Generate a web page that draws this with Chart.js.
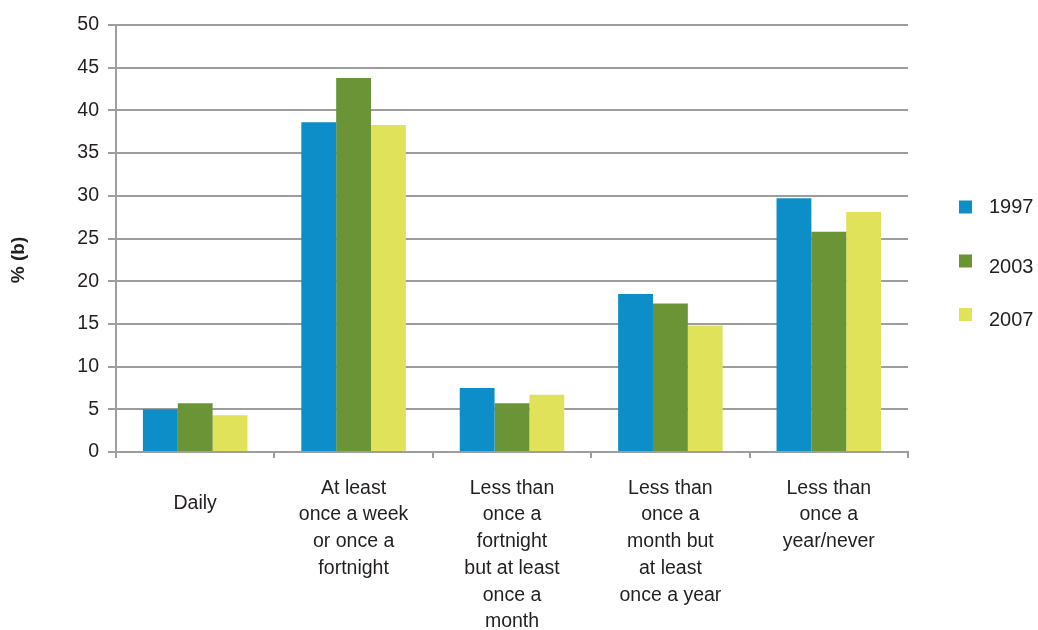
<!DOCTYPE html>
<html>
<head>
<meta charset="utf-8">
<script src="https://cdn.jsdelivr.net/npm/chart.js@4.4.1/dist/chart.umd.min.js"></script>
<style>
  html, body { margin: 0; padding: 0; background: #fff; }
  #wrap { width: 1038px; height: 630px; }
</style>
</head>
<body>
<div id="wrap"><canvas id="freqChart"></canvas></div>
<script>
// ===== Data =====
const categories = [
  "Daily",
  ["At least", "once a week", "or once a", "fortnight"],
  ["Less than", "once a", "fortnight", "but at least", "once a", "month"],
  ["Less than", "once a", "month but", "at least", "once a year"],
  ["Less than", "once a", "year/never"]
];
const years = ["1997", "2003", "2007"];
const values1997 = [5.0, 38.6, 7.5, 18.5, 29.7];
const values2003 = [5.7, 43.8, 5.7, 17.4, 25.8];
const values2007 = [4.3, 38.3, 6.7, 14.8, 28.1];
const yTicks = [0, 5, 10, 15, 20, 25, 30, 35, 40, 45, 50];
const yTitle = "% (b)";

const colors = ["#0e8ec9", "#6a9435", "#e0e35a"];
const gridGrey = "#9d9d9f";
const textCol = "#231f20";
const fontFamily = "'Liberation Sans', Arial, Helvetica, sans-serif";

// legend + y title drawn by hand to match the original placement
const sideLabels = {
  id: "sideLabels",
  afterDraw(chart) {
    const ctx = chart.ctx;
    ctx.save();
    ctx.font = "20px " + fontFamily;
    const boxY = [207, 261, 314.5];
    const textY = [207, 267.5, 320];
    chart.data.datasets.forEach((ds, i) => {
      ctx.fillStyle = ds.backgroundColor;
      ctx.fillRect(959, boxY[i] - 6.5, 13, 13);
      ctx.fillStyle = textCol;
      ctx.textAlign = "left";
      ctx.textBaseline = "middle";
      ctx.fillText(ds.label, 989, textY[i]);
    });
    // y axis title
    ctx.translate(19, 260);
    ctx.rotate(-Math.PI / 2);
    ctx.font = "bold 19px " + fontFamily;
    ctx.textAlign = "center";
    ctx.textBaseline = "middle";
    ctx.fillText(yTitle, 0, 0);
    ctx.restore();
  }
};

const seriesValues = [values1997, values2003, values2007];

new Chart(document.getElementById("freqChart"), {
  type: "bar",
  data: {
    labels: categories,
    datasets: years.map((y, i) => ({
      label: y,
      data: seriesValues[i],
      backgroundColor: colors[i],
      borderWidth: 0,
      categoryPercentage: 0.66,
      barPercentage: 1.0
    }))
  },
  options: {
    responsive: true,
    maintainAspectRatio: false,
    animation: false,
    layout: { padding: { left: 0, right: 130, top: 25, bottom: 0 } },
    plugins: {
      legend: { display: false },
      tooltip: { enabled: false }
    },
    scales: {
      x: {
        offset: true,
        afterFit(scale) { scale.height = 178; },
        grid: {
          offset: true,
          drawOnChartArea: false,
          color: gridGrey,
          lineWidth: 2,
          tickLength: 6
        },
        border: { color: gridGrey, width: 2 },
        ticks: {
          color: textCol,
          padding: 17,
          maxRotation: 0,
          autoSkip: false,
          font: (c) => c.index === 0
            ? { family: fontFamily, size: 19.5, lineHeight: "56.6px" }
            : { family: fontFamily, size: 19.5, lineHeight: "26.7px" }
        }
      },
      y: {
        min: 0,
        max: 50,
        afterFit(scale) {
          scale.width = 116;
          scale.paddingTop = 0;
          scale.paddingBottom = 0;
        },
        afterBuildTicks(scale) { scale.ticks = yTicks.map(v => ({ value: v })); },
        grid: { color: gridGrey, lineWidth: 2, tickLength: 8 },
        border: { color: gridGrey, width: 2 },
        ticks: {
          color: textCol,
          padding: 9,
          font: { family: fontFamily, size: 19.5 }
        }
      }
    }
  },
  plugins: [sideLabels]
});
</script>
</body>
</html>
